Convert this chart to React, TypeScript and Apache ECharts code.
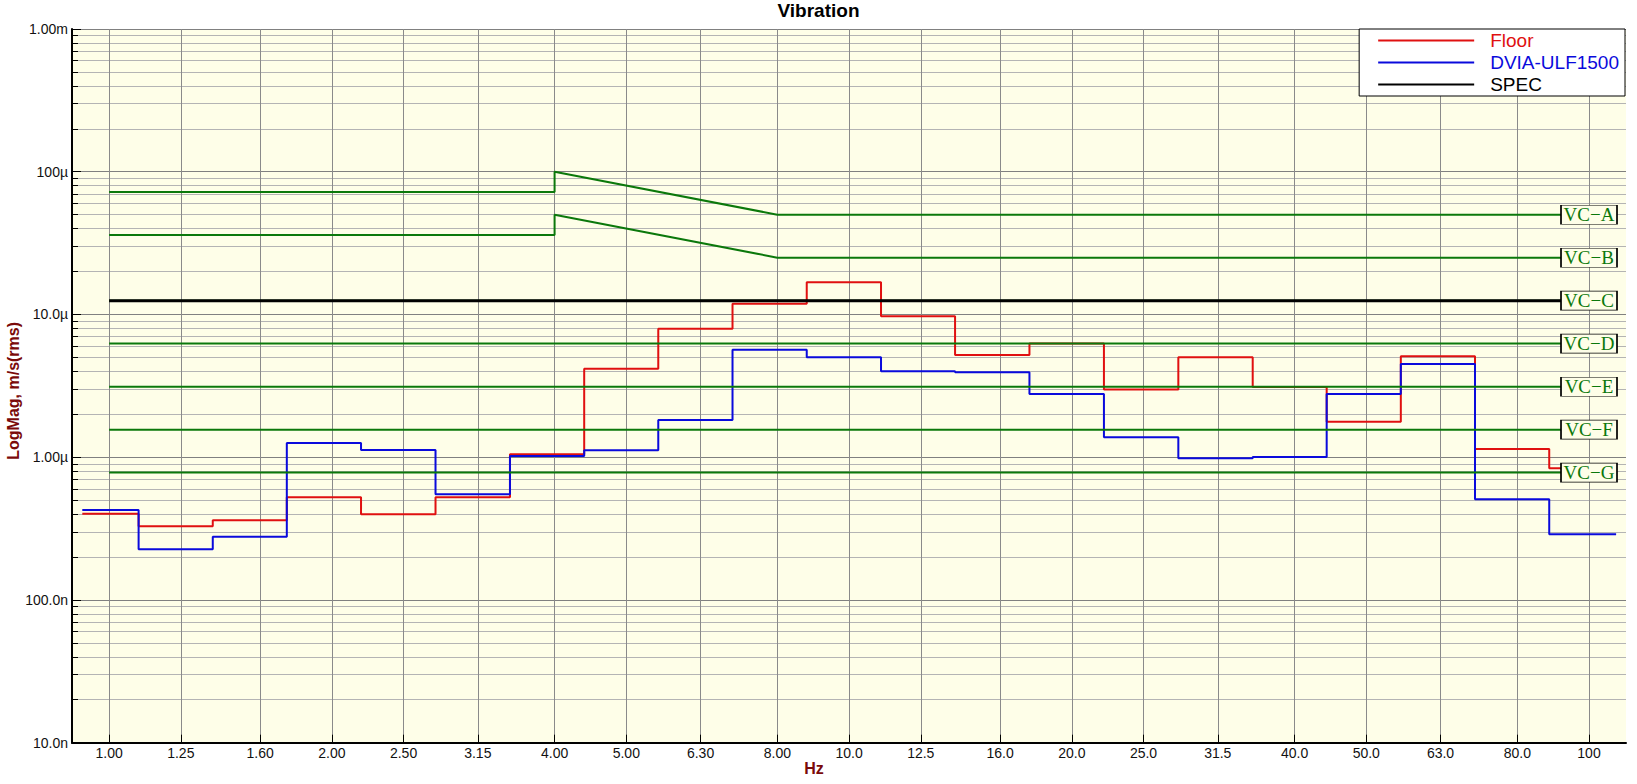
import React, { useEffect, useRef } from "react";
import * as echarts from "echarts";

// ---- data ----
const bandLabels = ["1.00", "1.25", "1.60", "2.00", "2.50", "3.15", "4.00", "5.00", "6.30", "8.00", "10.0", "12.5", "16.0", "20.0", "25.0", "31.5", "40.0", "50.0", "63.0", "80.0", "100"];
const bandNominalHz = [1, 1.25, 1.6, 2, 2.5, 3.15, 4, 5, 6.3, 8, 10, 12.5, 16, 20, 25, 31.5, 40, 50, 63, 80, 100];
const bandCenterHz = [0.977, 1.23, 1.55, 1.95, 2.46, 3.1, 3.91, 4.92, 6.2, 7.81, 9.84, 12.4, 15.6, 19.7, 24.8, 31.3, 39.4, 49.6, 62.5, 78.7, 99.2];
const traceRangeHz = [0.92, 108.8];
const freqRangeHz = [0.891, 112.2];

const floorVel = [4.01e-7, 3.29e-7, 3.62e-7, 5.25e-7, 3.99e-7, 5.25e-7, 1.05e-6, 4.16e-6, 7.93e-6, 1.19e-5, 1.68e-5, 9.73e-6, 5.21e-6, 6.25e-6, 2.98e-6, 5.02e-6, 3.11e-6, 1.77e-6, 5.1e-6, 1.14e-6, 8.37e-7];
const dviaVel = [4.26e-7, 2.27e-7, 2.77e-7, 1.26e-6, 1.125e-6, 5.5e-7, 1.02e-6, 1.12e-6, 1.82e-6, 5.65e-6, 5.02e-6, 4.01e-6, 3.94e-6, 2.77e-6, 1.38e-6, 9.85e-7, 1.005e-6, 2.77e-6, 4.49e-6, 5.08e-7, 2.89e-7];

const yDecades = [1e-8, 1e-7, 1e-6, 1e-5, 1e-4, 1e-3];
const yTickLabels = ["10.0n", "100.0n", "1.00µ", "10.0µ", "100µ", "1.00m"];
const yMinorMultipliers = [2, 3, 4, 5, 6, 7, 8, 9];

const vcAHz = [1, 4, 4, 8, 100];
const vcAVel = [72e-6, 72e-6, 100e-6, 50e-6, 50e-6];
const vcBHz = [1, 4, 4, 8, 100];
const vcBVel = [36e-6, 36e-6, 50e-6, 25e-6, 25e-6];
const vcFlatHz = [1, 100];
const vcFlatNames = ["VC−C", "VC−D", "VC−E", "VC−F", "VC−G"];
const vcFlatVel = [12.5e-6, 6.25e-6, 3.12e-6, 1.56e-6, 0.78e-6];
const specHz = [1, 100];
const specVel = [12.5e-6, 12.5e-6];

// ---- styles ----
const BG = "#FEFEE8";
const GREEN = "#0B780B";
const RED = "#E01010";
const BLUE = "#0A0ADC";
const DARKRED = "#7A0A0A";
const SANS = "'Liberation Sans', Arial, sans-serif";
const SERIF = "'Liberation Serif', 'Times New Roman', serif";

const lg = (v: number) => Math.log10(v);

function stepPoints(vals: number[]) {
  const edges: number[] = [traceRangeHz[0]];
  for (let i = 1; i < bandCenterHz.length; i++) edges.push(Math.sqrt(bandCenterHz[i - 1] * bandCenterHz[i]));
  edges.push(traceRangeHz[1]);
  const pts: number[][] = [];
  vals.forEach((v, i) => {
    pts.push([lg(edges[i]), lg(v)], [lg(edges[i + 1]), lg(v)]);
  });
  return pts;
}

function vcSeries(name: string, hz: number[], vel: number[]) {
  return {
    type: "line",
    name,
    data: hz.map((f, i) => [lg(f), lg(vel[i])]),
    symbol: "none",
    lineStyle: { color: GREEN, width: 2 },
    itemStyle: { color: GREEN },
    z: 3,
    silent: true,
    markPoint: {
      silent: true,
      symbol: "rect",
      symbolSize: [56, 19],
      itemStyle: { color: BG, borderColor: "#000", borderWidth: 1 },
      label: {
        show: true,
        position: "inside",
        formatter: name,
        color: GREEN,
        fontFamily: SERIF,
        fontSize: 19,
      },
      data: [{ coord: [lg(hz[hz.length - 1]), lg(vel[vel.length - 1])] }],
    },
  };
}

export default function App() {
  const ref = useRef<HTMLDivElement>(null);
  useEffect(() => {
    if (!ref.current) return;
    const chart = echarts.init(ref.current, undefined, { renderer: "svg" });
    const xTicks = bandNominalHz.map(lg);
    const yMinor: number[] = [];
    yDecades.slice(0, -1).forEach((d) => yMinorMultipliers.forEach((m) => yMinor.push(lg(d * m))));

    const option: any = {
      animation: false,
      backgroundColor: "#fff",
      title: {
        text: "Vibration",
        left: "center",
        top: 1,
        padding: 0,
        textStyle: { fontFamily: SANS, fontSize: 19, fontWeight: "bold", color: "#000" },
      },
      legend: {
        data: [
          { name: "Floor", textStyle: { color: RED } },
          { name: "DVIA-ULF1500", textStyle: { color: BLUE } },
          { name: "SPEC", textStyle: { color: "#000" } },
        ],
        icon: "rect",
        orient: "vertical",
        right: 12,
        top: 29,
        padding: [2, 6, 2, 19],
        itemGap: 3,
        itemWidth: 96,
        itemHeight: 2,
        backgroundColor: "#fff",
        borderColor: "#000",
        borderWidth: 1,
        borderRadius: 0,
        textStyle: { fontFamily: SANS, fontSize: 19, lineHeight: 19, padding: [0, 0, 0, 11] },
        selectedMode: false,
      },
      grid: {
        left: 72,
        right: 11,
        top: 29,
        bottom: 41.3,
        show: true,
        backgroundColor: BG,
        borderWidth: 0,
        containLabel: false,
        outerBoundsMode: "none",
      },
      xAxis: {
        type: "value",
        min: lg(freqRangeHz[0]),
        max: lg(freqRangeHz[1]),
        name: "Hz",
        nameLocation: "middle",
        nameGap: 18,
        nameMoveOverlap: false,
        nameTextStyle: { fontFamily: SANS, fontSize: 16, fontWeight: "bold", color: DARKRED, padding: [0, 70, 0, 0] },
        axisLine: { show: true, onZero: false, lineStyle: { color: "#000", width: 2 } },
        axisTick: { show: true, inside: true, length: 8, customValues: xTicks, lineStyle: { color: "#000", width: 1 } },
        axisLabel: {
          show: true,
          customValues: xTicks,
          margin: 3,
          fontFamily: SANS,
          fontSize: 14,
          color: "#111",
          formatter: (v: number) => {
            const i = xTicks.findIndex((t) => Math.abs(t - v) < 1e-6);
            return i >= 0 ? bandLabels[i] : "";
          },
        },
        splitLine: { show: true, lineStyle: { color: "#8A8A8A", width: 1 } },
      },
      yAxis: [
        {
          type: "value",
          position: "left",
          min: lg(yDecades[0]),
          max: lg(yDecades[yDecades.length - 1]),
          interval: 1,
          name: "LogMag, m/s(rms)",
          nameLocation: "middle",
          nameGap: 51,
          nameMoveOverlap: false,
          nameTextStyle: { fontFamily: SANS, fontSize: 16, fontWeight: "bold", color: DARKRED, padding: [0, 10, 0, 0] },
          axisLine: { show: true, onZero: false, lineStyle: { color: "#000", width: 2 } },
          axisTick: { show: true, inside: true, length: 9, lineStyle: { color: "#000", width: 1 } },
          axisLabel: {
            margin: 4,
            fontFamily: SANS,
            fontSize: 14,
            color: "#111",
            formatter: (v: number) => {
              const i = yDecades.findIndex((d) => Math.abs(lg(d) - v) < 1e-6);
              return i >= 0 ? yTickLabels[i] : "";
            },
          },
          splitLine: { show: true, lineStyle: { color: "#808080", width: 1 } },
        },
        {
          type: "value",
          position: "left",
          min: lg(yDecades[0]),
          max: lg(yDecades[yDecades.length - 1]),
          axisLine: { show: false, onZero: false },
          axisTick: { show: true, inside: true, length: 6, customValues: yMinor, lineStyle: { color: "#000", width: 1 } },
          axisLabel: { show: false },
          splitLine: { show: true, lineStyle: { color: "#B4B4B4", width: 1 } },
        },
      ],
      series: [
        {
          type: "line",
          name: "Floor",
          data: stepPoints(floorVel),
          symbol: "none",
          lineStyle: { color: RED, width: 2 },
          itemStyle: { color: RED },
          z: 2,
          silent: true,
        },
        {
          type: "line",
          name: "DVIA-ULF1500",
          data: stepPoints(dviaVel),
          symbol: "none",
          lineStyle: { color: BLUE, width: 2 },
          itemStyle: { color: BLUE },
          z: 2,
          silent: true,
        },
        vcSeries("VC−A", vcAHz, vcAVel),
        vcSeries("VC−B", vcBHz, vcBVel),
        ...vcFlatNames.map((n, i) => vcSeries(n, vcFlatHz, [vcFlatVel[i], vcFlatVel[i]])),
        {
          type: "line",
          name: "SPEC",
          data: specHz.map((f, i) => [lg(f), lg(specVel[i])]),
          symbol: "none",
          lineStyle: { color: "#000", width: 3 },
          itemStyle: { color: "#000" },
          z: 4,
          silent: true,
        },
      ],
    };
    chart.setOption(option);
    return () => chart.dispose();
  }, []);
  return <div ref={ref} style={{ position: "fixed", left: 0, top: 0, width: 1637, height: 784 }} />;
}
